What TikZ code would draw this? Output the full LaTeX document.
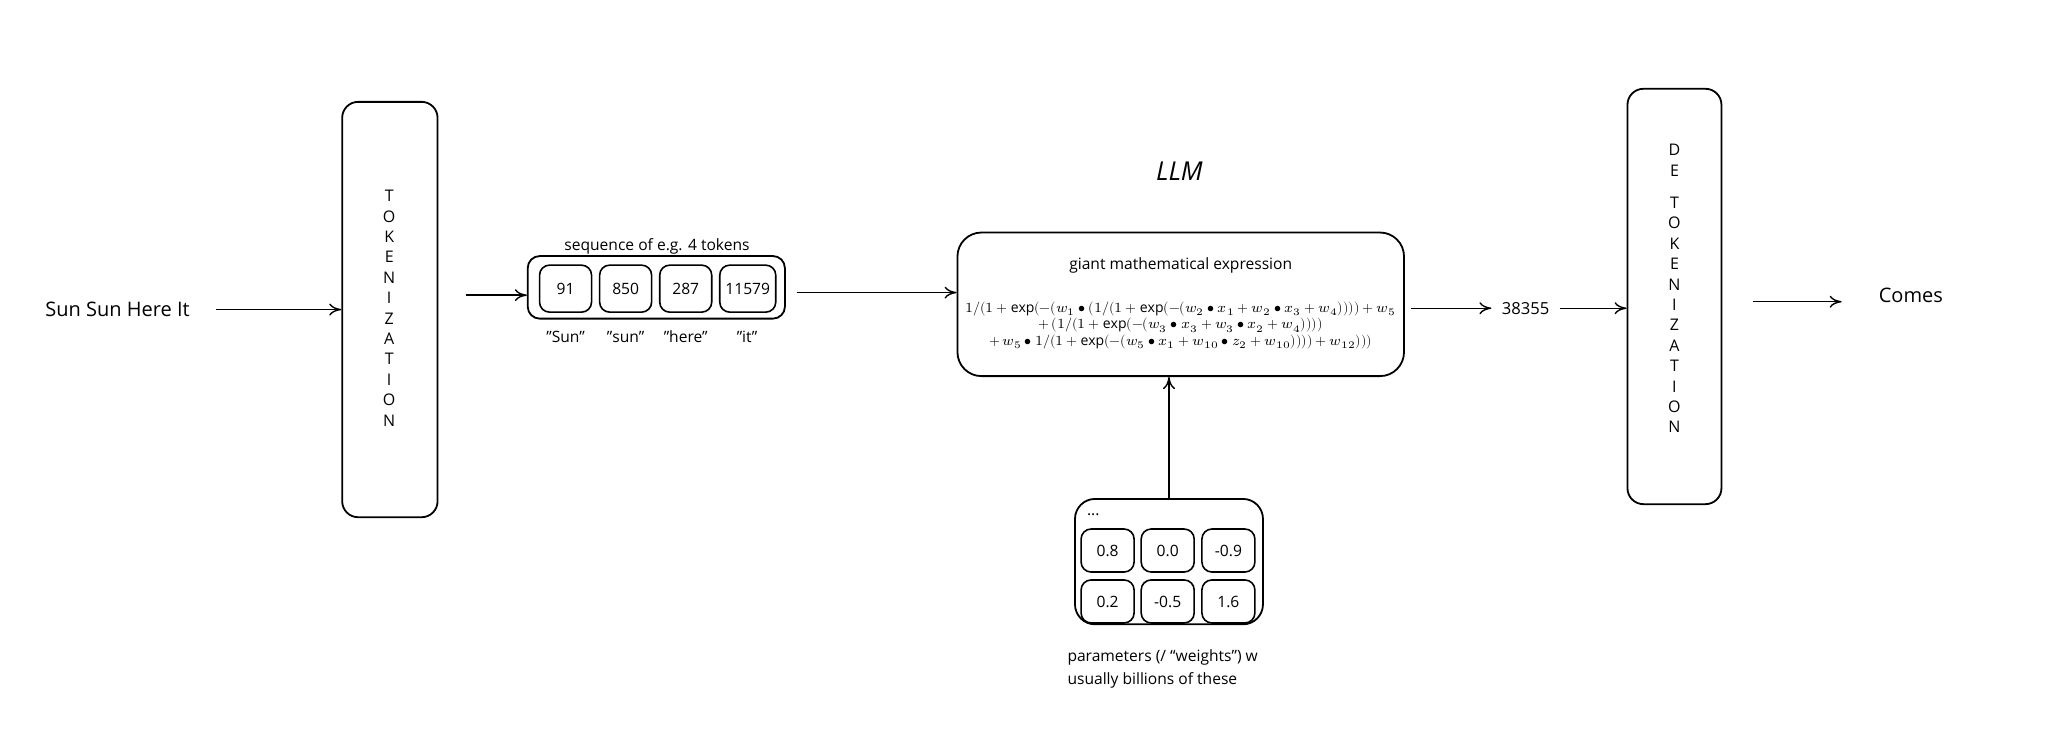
\documentclass[tikz,border=0pt]{standalone}
\usetikzlibrary{arrows.meta}
\usepackage{fontspec}
\setmainfont{Open Sans}
\usepackage{amsmath}
\usepackage{unicode-math}
\setmathfont{Latin Modern Math}
\begin{document}
\begin{tikzpicture}[x=0.6531pt,y=-0.6531pt,
  box/.style={draw,line width=0.9pt,rounded corners=8pt,inner sep=0pt},
  cell/.style={draw,line width=0.8pt,rounded corners=5pt,inner sep=0pt,font=\fontsize{7.8}{9}\selectfont},
  arr/.style={-{To[length=6pt,width=6pt]},line width=0.7pt},
  lbl/.style={font=\fontsize{7.8}{9}\selectfont,inner sep=0pt},
  vert/.style={align=center,font=\fontsize{8}{10.2}\selectfont,inner sep=0pt}]
\useasboundingbox (0,0) rectangle (1568,577);
% input
\node[lbl,font=\fontsize{10}{12}\selectfont] (in) at (90,237) {Sun Sun Here It};
\coordinate (a1s) at (165,237);
% tokenization
\node[box,minimum width=47.7pt,minimum height=207.7pt] (tok) at (298.5,237) {};
\node[vert] at (298,236) {T\\O\\K\\E\\N\\I\\Z\\A\\T\\I\\O\\N};
\draw[arr] (a1s) -- (tok.west|-a1s);
% sequence
\node[box,minimum width=128.6pt,minimum height=31.3pt,rounded corners=6pt] (seq) at (502.5,220) {};
\node[lbl] at (503,189) {sequence of e.g. 4 tokens};
\node[cell,minimum width=26pt,minimum height=23.5pt] (t1) at (433,221) {91};
\node[cell,minimum width=26pt,minimum height=23.5pt] (t2) at (479,221) {850};
\node[cell,minimum width=26pt,minimum height=23.5pt] (t3) at (525,221) {287};
\node[cell,minimum width=28pt,minimum height=23.5pt] (t4) at (572.5,221) {11579};
\node[lbl] at (433,258) {"Sun"};
\node[lbl] at (479,258) {"sun"};
\node[lbl] at (525,258) {"here"};
\node[lbl] at (572,258) {"it"};
\coordinate (a2s) at (357,226);
\draw[arr] (a2s) -- (seq.west|-a2s);
% LLM
\node[font=\fontsize{13}{15}\selectfont\itshape] (llmt) at (903,131) {LLM};
\node[box,minimum width=223.3pt,minimum height=71.8pt,rounded corners=12pt] (llm) at (904,233) {};
\node[lbl] at (904,203) {giant mathematical expression};
\node[inner sep=0pt,align=center,font=\fontsize{7}{8.3}\selectfont] (f) at (904,249) {%
$1/(1+\exp(-(w_1\bullet(1/(1+\exp(-(w_2\bullet x_1+w_2\bullet x_3+w_4))))+w_5$\\
$+\,(1/(1+\exp(-(w_3\bullet x_3+w_3\bullet x_2+w_4))))$\\
$+\,w_5\bullet 1/(1+\exp(-(w_5\bullet x_1+w_{10}\bullet z_2+w_{10}))))+w_{12})))$};
\coordinate (a3s) at (610,224);
\draw[arr] (a3s) -- (llm.west|-a3s);
% output id
\node[lbl,font=\fontsize{8.3}{10}\selectfont] (id) at (1168,236) {38355};
\coordinate (a4s) at (1080,236);
\draw[arr] (a4s) -- ([xshift=-5pt]id.west);
% detokenization
\node[box,minimum width=47pt,minimum height=207.7pt] (detok) at (1282,227) {};
\node[vert] at (1282,221) {D\\E\\[6pt]T\\O\\K\\E\\N\\I\\Z\\A\\T\\I\\O\\N};
\draw[arr] ([xshift=5pt]id.east) -- (detok.west|-id.east);
% output
\node[lbl,font=\fontsize{10}{12}\selectfont] (out) at (1463,226) {Comes};
\coordinate (a6s) at (1342,231);
\coordinate (a6e) at (1410,231);
\draw[arr] (a6s) -- (a6e);
% params
\node[box,minimum width=94pt,minimum height=62.7pt,rounded corners=10pt] (par) at (895,430) {};
\node[lbl] at (837,394) {...};
\foreach \x/\y/\v/\n in {848/421.5/0.8/p1,894/421.5/0.0/p2,940.5/421.5/-0.9/p3,848/460.5/0.2/p4,894/460.5/-0.5/p5,940.5/460.5/1.6/p6}
  \node[cell,minimum width=26.5pt,minimum height=21.5pt] (\n) at (\x,\y) {\v};
\node[lbl,align=left,anchor=north west,font=\fontsize{7.8}{11.5}\selectfont] at (817,497) {parameters (/ “weights”) w\\usually billions of these};
\draw[arr] (par.north) -- (par.north|-llm.south);
\end{tikzpicture}
\end{document}
